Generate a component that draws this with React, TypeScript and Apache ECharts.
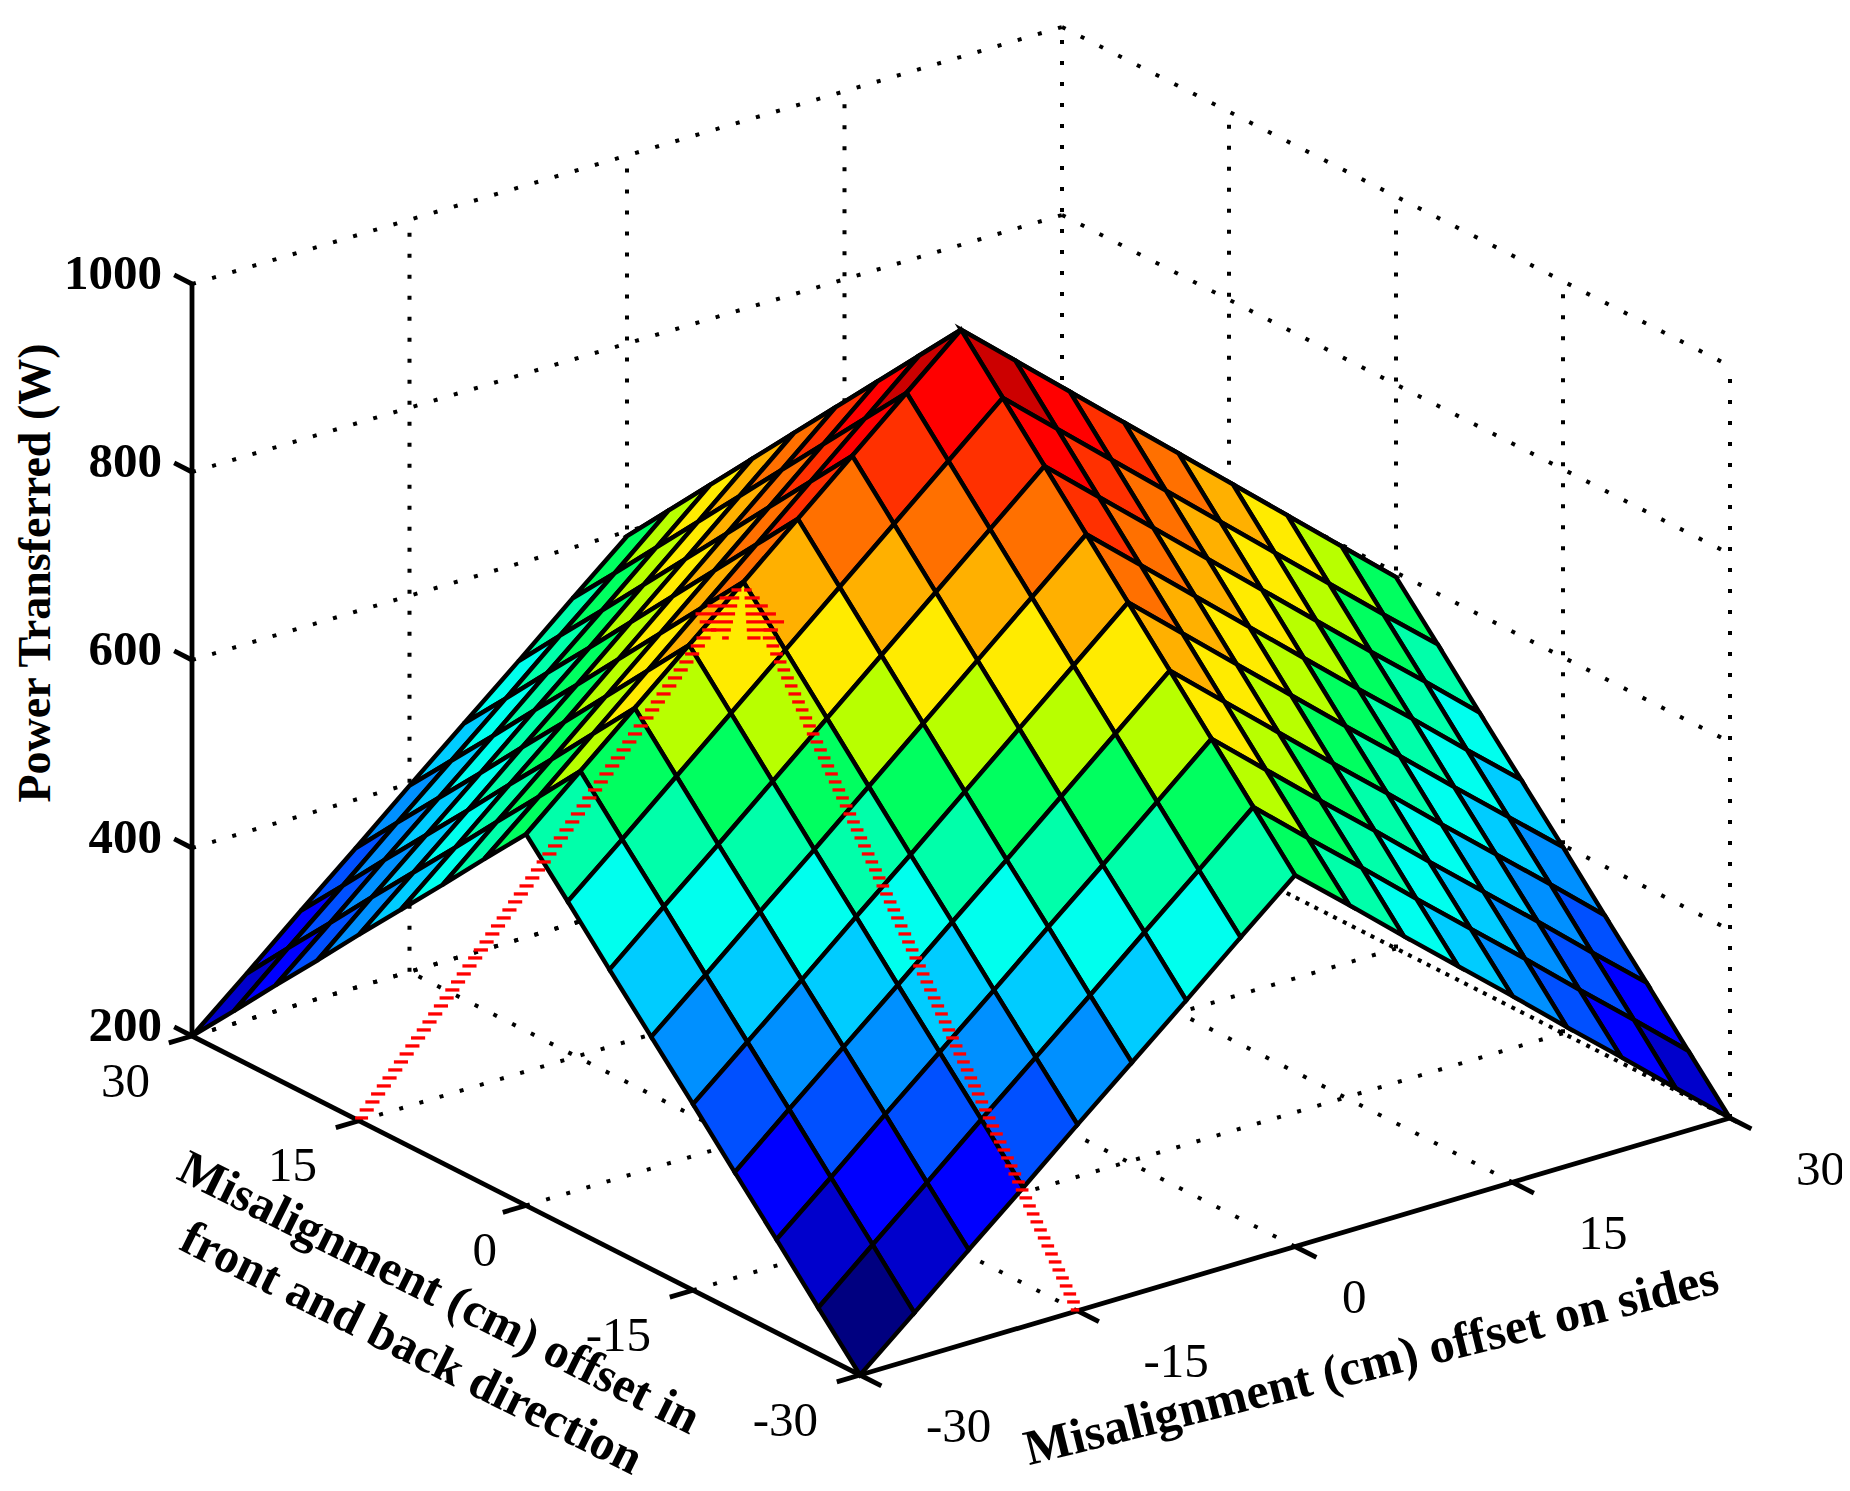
import React, { useEffect, useRef } from "react";
import * as echarts from "echarts";

const W = 1850;
const H = 1491;

// ---------------- data ----------------
// grid of the surface (cm)
const sidesOffsets = [-30, -26.25, -22.5, -18.75, -15, -11.25, -7.5, -3.75, 0, 3.75, 7.5, 11.25, 15, 18.75, 22.5, 26.25, 30];
const frontBackOffsets = [-30, -26.25, -22.5, -18.75, -15, -11.25, -7.5, -3.75, 0, 3.75, 7.5, 11.25, 15, 18.75, 22.5, 26.25, 30];
// power transferred (W): powerRows[frontBackIndex][sidesIndex]
const powerRows: number[][] = [
  [200, 249, 299, 348, 398, 447, 496, 546, 595, 546, 496, 447, 398, 348, 299, 249, 200],
  [249, 299, 348, 398, 447, 496, 546, 595, 645, 595, 546, 496, 447, 398, 348, 299, 249],
  [299, 348, 398, 447, 496, 546, 595, 645, 695, 645, 595, 546, 496, 447, 398, 348, 299],
  [348, 398, 447, 496, 546, 595, 645, 695, 745, 695, 645, 595, 546, 496, 447, 398, 348],
  [398, 447, 496, 546, 595, 645, 695, 745, 795, 745, 695, 645, 595, 546, 496, 447, 398],
  [447, 496, 546, 595, 645, 695, 745, 795, 845, 795, 745, 695, 645, 595, 546, 496, 447],
  [496, 546, 595, 645, 695, 745, 795, 845, 895, 845, 795, 745, 695, 645, 595, 546, 496],
  [546, 595, 645, 695, 745, 795, 845, 895, 945, 895, 845, 795, 745, 695, 645, 595, 546],
  [595, 645, 695, 745, 795, 845, 895, 945, 995, 945, 895, 845, 795, 745, 695, 645, 595],
  [546, 595, 645, 695, 745, 795, 845, 895, 945, 895, 845, 795, 745, 695, 645, 595, 546],
  [496, 546, 595, 645, 695, 745, 795, 845, 895, 845, 795, 745, 695, 645, 595, 546, 496],
  [447, 496, 546, 595, 645, 695, 745, 795, 845, 795, 745, 695, 645, 595, 546, 496, 447],
  [398, 447, 496, 546, 595, 645, 695, 745, 795, 745, 695, 645, 595, 546, 496, 447, 398],
  [348, 398, 447, 496, 546, 595, 645, 695, 745, 695, 645, 595, 546, 496, 447, 398, 348],
  [299, 348, 398, 447, 496, 546, 595, 645, 695, 645, 595, 546, 496, 447, 398, 348, 299],
  [249, 299, 348, 398, 447, 496, 546, 595, 645, 595, 546, 496, 447, 398, 348, 299, 249],
  [200, 249, 299, 348, 398, 447, 496, 546, 595, 546, 496, 447, 398, 348, 299, 249, 200],
];

const sidesTicks = [-30, -15, 0, 15, 30];
const frontBackTicks = [-30, -15, 0, 15, 30];
const powerTicks = [200, 400, 600, 800, 1000];

const powerTitle = "Power Transferred (W)";
const frontBackTitle = "Misalignment (cm) offset in\nfront and back direction";
const sidesTitle = "Misalignment (cm) offset on sides";

// colour scale (low -> high), as rendered in the reference
const colorScale = [
  "#000080", "#0000cc", "#0000ff", "#0050ff", "#0090ff", "#00ccff", "#00ffee", "#00ffaa", "#00ff60",
  "#b8ff00", "#ffeb00", "#ffb000", "#ff7000", "#ff3000", "#ff0000", "#cc0000", "#800000",
];

// annotation arrows: from these axis ticks to the surface point below
const arrowFromFrontBack = 15;
const arrowFromSides = -15;
const arrowTargetSides = -15;
const arrowTargetFrontBack = 0;

// ---------------- view (camera) ----------------
const U0 = -30, U1 = 30, V0 = -30, V1 = 30, Z0 = 200, Z1 = 1000;
const VIEW = { ox: 852, oy: 1367, s: [870, -257], t: [-668, -339], z: -752 };

function project(u: number, v: number, z: number): [number, number] {
  const a = (u - U0) / (U1 - U0);
  const b = (v - V0) / (V1 - V0);
  const c = (z - Z0) / (Z1 - Z0);
  return [VIEW.ox + a * VIEW.s[0] + b * VIEW.t[0], VIEW.oy + a * VIEW.s[1] + b * VIEW.t[1] + c * VIEW.z];
}
function depth(u: number, v: number, z: number) {
  const a = (u - U0) / (U1 - U0);
  const b = (v - V0) / (V1 - V0);
  const c = (z - Z0) / (Z1 - Z0);
  return 0.768 * a + b - 0.713 * c;
}

const allPower = powerRows.flat();
const cMin = Math.min(...allPower);
const cMax = Math.max(...allPower);
function colorFor(v: number) {
  const n = colorScale.length - 1;
  const k = Math.max(0, Math.min(n, Math.round(((v - cMin) / (cMax - cMin)) * n)));
  return colorScale[k];
}

const FONT = '"Liberation Serif", "Times New Roman", serif';

function hatch(poly: number[][], phase: number, step: number, barH: number, out: any[]) {
  const ys = poly.map((p) => p[1]);
  const minY = Math.min(...ys), maxY = Math.max(...ys);
  let y = phase + Math.ceil((minY - phase) / step) * step;
  for (; y <= maxY; y += step) {
    const xs: number[] = [];
    for (let i = 0; i < poly.length; i++) {
      const p = poly[i], q = poly[(i + 1) % poly.length];
      if (p[1] === q[1]) continue;
      const lo = Math.min(p[1], q[1]), hi = Math.max(p[1], q[1]);
      if (y < lo || y > hi) continue;
      xs.push(p[0] + ((y - p[1]) * (q[0] - p[0])) / (q[1] - p[1]));
    }
    if (xs.length < 2) continue;
    const x0 = Math.min(...xs), x1 = Math.max(...xs);
    out.push({ type: "rect", shape: { x: x0, y: y - barH / 2, width: x1 - x0, height: barH }, style: { fill: "#ff0000" } });
  }
}

function buildOption() {
  // surface cells, painter's order (far first)
  const cells: number[][] = [];
  for (let j = 0; j < frontBackOffsets.length - 1; j++) {
    for (let i = 0; i < sidesOffsets.length - 1; i++) {
      const u = (sidesOffsets[i] + sidesOffsets[i + 1]) / 2;
      const v = (frontBackOffsets[j] + frontBackOffsets[j + 1]) / 2;
      const z = (powerRows[j][i] + powerRows[j][i + 1] + powerRows[j + 1][i] + powerRows[j + 1][i + 1]) / 4;
      cells.push([i, j, depth(u, v, z)]);
    }
  }
  cells.sort((a, b) => b[2] - a[2]);

  // dotted grid segments [u1,v1,z1,u2,v2,z2]
  const gridSegs: number[][] = [];
  sidesTicks.forEach((u) => { if (u !== U0) gridSegs.push([u, V0, Z0, u, V1, Z0]); });
  frontBackTicks.forEach((v) => { if (v !== V0) gridSegs.push([U0, v, Z0, U1, v, Z0]); });
  sidesTicks.forEach((u) => { if (u !== U0) gridSegs.push([u, V1, Z0, u, V1, Z1]); });
  frontBackTicks.forEach((v) => { if (v !== V1) gridSegs.push([U1, v, Z0, U1, v, Z1]); });
  powerTicks.forEach((z) => {
    gridSegs.push([U0, V1, z, U1, V1, z]);
    gridSegs.push([U1, V1, z, U1, V0, z]);
  });

  // solid axes and tick marks
  const axisSegs: number[][] = [];
  axisSegs.push([U0, V0, Z0, U0, V1, Z0]);
  axisSegs.push([U0, V0, Z0, U1, V0, Z0]);
  axisSegs.push([U0, V1, Z0, U0, V1, Z1]);
  const fbTickLen = 1.6, sTickLen = 1.92, zTickLen = 1.6;
  frontBackTicks.forEach((v) => axisSegs.push([U0, v, Z0, U0 - fbTickLen, v, Z0]));
  sidesTicks.forEach((u) => axisSegs.push([u, V0, Z0, u, V0 - sTickLen, Z0]));
  powerTicks.forEach((z) => axisSegs.push([U0, V1, z, U0, V1 + zTickLen, z]));

  const segRender = (style: any) => (params: any, api: any) => {
    const p1 = api.coord(project(api.value(0), api.value(1), api.value(2)));
    const p2 = api.coord(project(api.value(3), api.value(4), api.value(5)));
    return { type: "line", shape: { x1: p1[0], y1: p1[1], x2: p2[0], y2: p2[1] }, style };
  };

  const renderCell = (params: any, api: any) => {
    const i = api.value(0), j = api.value(1);
    const corners = [[i, j], [i + 1, j], [i + 1, j + 1], [i, j + 1]];
    const pts = corners.map(([a, b]) => api.coord(project(sidesOffsets[a], frontBackOffsets[b], powerRows[b][a])));
    return {
      type: "polygon",
      shape: { points: pts },
      style: { fill: colorFor(powerRows[j][i]), stroke: "#000", lineWidth: 4.4, lineJoin: "miter", miterLimit: 5 },
    };
  };

  const txt = (x: number, y: number, text: string, o: any) => ({
    type: "text",
    x, y,
    rotation: o.rotation || 0,
    style: {
      text,
      fill: "#000",
      fontSize: o.size,
      fontFamily: FONT,
      fontWeight: o.bold ? "bold" : "normal",
      align: o.align, textAlign: o.align,
      verticalAlign: "middle", textVerticalAlign: "middle",
      lineHeight: o.lineHeight,
    },
  });

  const renderLabels = (params: any, api: any) => {
    const children: any[] = [];
    powerTicks.forEach((z) => {
      const p = api.coord(project(U0, V1, z));
      children.push(txt(p[0] - 30, p[1] - 12, String(z), { size: 49, bold: true, align: "right" }));
    });
    frontBackTicks.forEach((v) => {
      const p = api.coord(project(U0, v, Z0));
      const nudge = v === 0 ? 13 : 0;
      children.push(txt(p[0] - 42 + nudge, p[1] + 44, String(v), { size: 49, bold: false, align: "right" }));
    });
    sidesTicks.forEach((u) => {
      const p = api.coord(project(u, V0, Z0));
      const nudge = u === 0 ? -19 : 0;
      children.push(txt(p[0] + 66 + nudge, p[1] + 50, String(u), { size: 49, bold: false, align: "left" }));
    });
    const pz = api.coord(project(U0, V1, (Z0 + Z1) / 2));
    children.push(txt(pz[0] - 158, pz[1] - 87, powerTitle, { size: 46, bold: true, align: "center", rotation: Math.PI / 2 }));
    const pf = api.coord(project(U0, (V0 + V1) / 2, Z0));
    children.push(txt(pf[0] - 100, pf[1] + 114, frontBackTitle, { size: 49, bold: true, align: "center", rotation: (-26.5 * Math.PI) / 180, lineHeight: 62 }));
    const ps = api.coord(project((U0 + U1) / 2, V0, Z0));
    children.push(txt(ps[0] + 76, ps[1] + 116, sidesTitle, { size: 50, bold: true, align: "center", rotation: (14 * Math.PI) / 180 }));
    return { type: "group", children };
  };

  const renderArrows = (params: any, api: any) => {
    const ti = sidesOffsets.indexOf(arrowTargetSides);
    const tj = frontBackOffsets.indexOf(arrowTargetFrontBack);
    const T = api.coord(project(arrowTargetSides, arrowTargetFrontBack, powerRows[tj][ti]));
    const starts = [
      api.coord(project(U0, arrowFromFrontBack, Z0)),
      api.coord(project(arrowFromSides, V0, Z0)),
    ];
    const children: any[] = [];
    starts.forEach((A) => {
      const dx = T[0] - A[0], dy = T[1] - A[1];
      const L = Math.hypot(dx, dy);
      const d = [dx / L, dy / L];
      const n = [-d[1], d[0]];
      const headLen = 58, headHalf = 22, w = 11.5;
      const base = [T[0] - d[0] * headLen, T[1] - d[1] * headLen];
      const baseIn = [base[0] + d[0] * 6, base[1] + d[1] * 6];
      const quad = [
        [A[0] + (n[0] * w) / 2, A[1] + (n[1] * w) / 2],
        [baseIn[0] + (n[0] * w) / 2, baseIn[1] + (n[1] * w) / 2],
        [baseIn[0] - (n[0] * w) / 2, baseIn[1] - (n[1] * w) / 2],
        [A[0] - (n[0] * w) / 2, A[1] - (n[1] * w) / 2],
      ];
      const tri = [
        [T[0], T[1]],
        [base[0] + n[0] * headHalf, base[1] + n[1] * headHalf],
        [base[0] - n[0] * headHalf, base[1] - n[1] * headHalf],
      ];
      hatch(quad, T[1], 8, 3.3, children);
      hatch(tri, T[1], 8, 3.3, children);
    });
    return { type: "group", children };
  };

  return {
    animation: false,
    backgroundColor: "#ffffff",
    grid: { left: 0, right: 0, top: 0, bottom: 0, containLabel: false },
    xAxis: { type: "value", min: 0, max: W, show: false },
    yAxis: { type: "value", min: 0, max: H, inverse: true, show: false },
    tooltip: { show: false },
    series: [
      {
        type: "custom", coordinateSystem: "cartesian2d", silent: true, z: 1, data: gridSegs,
        renderItem: segRender({ stroke: "#000", lineWidth: 4, lineDash: [4, 17], lineCap: "butt" }),
      },
      {
        type: "custom", coordinateSystem: "cartesian2d", silent: true, z: 2, data: axisSegs,
        renderItem: segRender({ stroke: "#000", lineWidth: 4.8, lineCap: "butt" }),
      },
      { type: "custom", coordinateSystem: "cartesian2d", silent: true, z: 3, data: cells, renderItem: renderCell },
      { type: "custom", coordinateSystem: "cartesian2d", silent: true, z: 4, data: [[0, 0]], renderItem: renderLabels },
      { type: "custom", coordinateSystem: "cartesian2d", silent: true, z: 5, data: [[0, 0]], renderItem: renderArrows },
    ],
  };
}

export default function App() {
  const ref = useRef<HTMLDivElement>(null);
  useEffect(() => {
    if (!ref.current) return;
    const chart = echarts.init(ref.current, null, { renderer: "svg", width: W, height: H });
    chart.setOption(buildOption() as any);
    return () => chart.dispose();
  }, []);
  return (
    <div
      ref={ref}
      style={{ position: "fixed", left: 0, top: 0, width: W + "px", height: H + "px", background: "#ffffff" }}
    />
  );
}
